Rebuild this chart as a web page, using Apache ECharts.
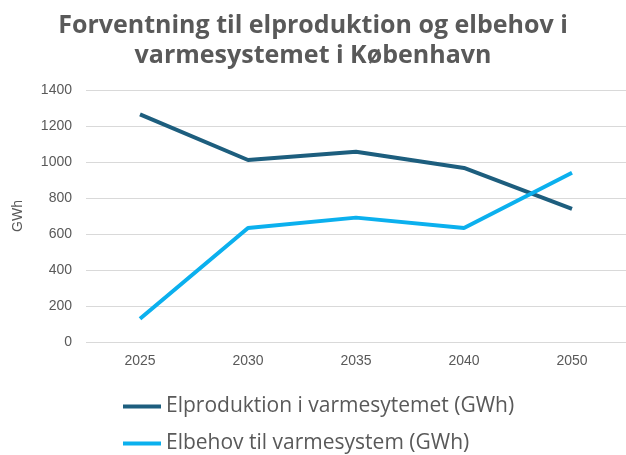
<!DOCTYPE html>
<html><head><meta charset="utf-8">
<script src="https://cdn.jsdelivr.net/npm/echarts@6/dist/echarts.min.js"></script>
<style>html,body{margin:0;padding:0;background:#fff}#c{width:626px;height:455px}</style>
</head><body><div id="c"></div>
<script>
const categories = ['2025','2030','2035','2040','2050'];
const elproduktion = [1265, 1011, 1057, 967, 739];
const elbehov = [129, 633, 691, 633, 940];
const seriesNames = ['Elproduktion i varmesytemet (GWh)', 'Elbehov til varmesystem (GWh)'];
const titleText = 'Forventning til elproduktion og elbehov i\nvarmesystemet i København';

const legendText = {fontFamily: 'Open Sans', fontSize: 21, color: '#595959'};
const chart = echarts.init(document.getElementById('c'));
chart.setOption({
  animation: false,
  title: {
    text: titleText, left: 'center', top: 6,
    textStyle: {fontFamily: 'Open Sans', fontWeight: 'bold', fontSize: 25, color: '#595959', lineHeight: 30}
  },
  legend: [
    {left: 118, top: 391, itemWidth: 38, itemHeight: 4, icon: 'rect', itemGap: 0,
     textStyle: legendText, data: [seriesNames[0]]},
    {left: 118, top: 428, itemWidth: 38, itemHeight: 4, icon: 'rect', itemGap: 0,
     textStyle: legendText, data: [seriesNames[1]]}
  ],
  grid: {left: 86, right: 0, top: 90, bottom: 113},
  xAxis: {
    type: 'category', data: categories, boundaryGap: true,
    axisLine: {show: false}, axisTick: {show: false},
    axisLabel: {color: '#595959', fontSize: 14, fontFamily: 'Liberation Sans', margin: 12}
  },
  yAxis: {
    type: 'value', min: 0, max: 1400, interval: 200,
    name: 'GWh', nameLocation: 'middle', nameGap: 61, nameRotate: 90,
    nameTextStyle: {color: '#595959', fontSize: 14, fontFamily: 'Liberation Sans'},
    axisLabel: {color: '#595959', fontSize: 14, fontFamily: 'Liberation Sans', margin: 14,
                formatter: v => String(v)},
    splitLine: {lineStyle: {color: '#d9d9d9', width: 1}}
  },
  series: [
    {name: seriesNames[0], type: 'line', data: elproduktion, symbol: 'none',
     lineStyle: {width: 4, color: '#1d5e7e'}, itemStyle: {color: '#1d5e7e'}},
    {name: seriesNames[1], type: 'line', data: elbehov, symbol: 'none',
     lineStyle: {width: 4, color: '#0bb0ee'}, itemStyle: {color: '#0bb0ee'}}
  ]
});
</script></body></html>
